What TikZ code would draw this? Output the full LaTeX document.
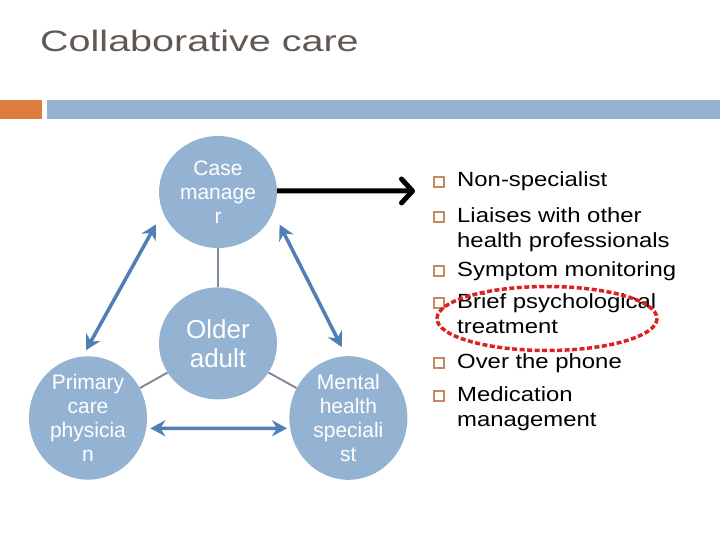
\documentclass[tikz,border=0pt]{standalone}
\usepackage{fontspec}
\setmainfont{Liberation Sans}
\newfontfamily\titlefont[FakeStretch=1.34]{Liberation Sans}
\newfontfamily\listfont[FakeStretch=1.165]{Liberation Sans}
\usetikzlibrary{positioning,arrows.meta,shapes.geometric}
\definecolor{slideblue}{RGB}{148,179,210}
\definecolor{slideorange}{RGB}{222,124,62}
\definecolor{arrowblue}{RGB}{79,127,182}
\definecolor{tiegray}{RGB}{128,140,156}
\definecolor{titlegray}{RGB}{98,88,83}
\definecolor{bulletbrown}{RGB}{196,137,98}
\definecolor{ringred}{RGB}{222,32,32}
\tikzset{
  role/.style={ellipse, fill=slideblue, minimum width=118pt, minimum height=112pt, inner sep=0pt, align=center, text=white, font=\fontsize{21}{24}\selectfont},
  hub/.style={role, font=\fontsize{26}{29}\selectfont},
  tie/.style={draw=tiegray, line width=2pt},
  dbl/.style={<->, >={Stealth[length=15pt,width=16pt,inset=5pt]}, draw=arrowblue, line width=3.5pt},
  lead/.style={-{Straight Barb[length=11pt,width=24pt,line width=5pt,round]}, line width=5pt},
  sq/.style={draw=bulletbrown, line width=1.5pt, minimum size=10pt, inner sep=0pt},
  itm/.style={anchor=base west, align=left, inner sep=0pt, font=\listfont\fontsize{20.5}{25.5}\selectfont},
  ring/.style={draw=ringred, line width=3.5pt, dash pattern=on 5pt off 2.5pt}
}

\begin{document}
\begin{tikzpicture}[x=1pt, y=-1pt]
\useasboundingbox (0,0) rectangle (720,540);
\node[anchor=base west, inner sep=0pt, text=titlegray, font=\titlefont\fontsize{29.5}{34}\selectfont] (ttl) at (40,52) {Collaborative care};
\fill[slideorange] (0,100) rectangle (42,119);
\fill[slideblue] (47,100) rectangle (720,119);
\node[role] (case) at (218,192) {Case\\manage\\r};
\node[hub, below=39pt of case] (older) {Older\\adult};
\node[role] (prim) at (88,418) {Primary\\care\\physicia\\n};
\node[role, right=142pt of prim] (ment) {Mental\\health\\speciali\\st};
\draw[tie] (case) -- (older);
\draw[tie] (older.210) -- (prim.30);
\draw[tie] (older.330) -- (ment.150);
\draw[dbl, shorten <=14pt, shorten >=7pt] (case.200) -- (prim.95);
\draw[dbl, shorten <=14pt, shorten >=10pt] (case.340) -- (ment.92);
\draw[dbl, shorten <=4pt, shorten >=3pt] (prim.350) -- (ment.190);
\coordinate (tip) at (415,191);
\draw[lead] (case.1) -- (tip);
\node[sq] (b1) at (439,182) {};
\node[itm] (i1) at (457,187) {Non-specialist};
\node[sq] (b2) at (439,217) {};
\node[itm] (i2) at (457,247.5) {Liaises with other\\health professionals};
\node[sq] (b3) at (439,271) {};
\node[itm] (i3) at (457,276) {Symptom monitoring};
\node[sq] (b4) at (439,303) {};
\node[itm] (i4) at (457,333.5) {Brief psychological\\treatment};
\node[sq] (b5) at (439,363) {};
\node[itm] (i5) at (457,368) {Over the phone};
\node[sq] (b6) at (439,396) {};
\node[itm] (i6) at (457,426.5) {Medication\\management};
\draw[ring] (547,318.5) ellipse [x radius=110, y radius=32];
\end{tikzpicture}
\end{document}
